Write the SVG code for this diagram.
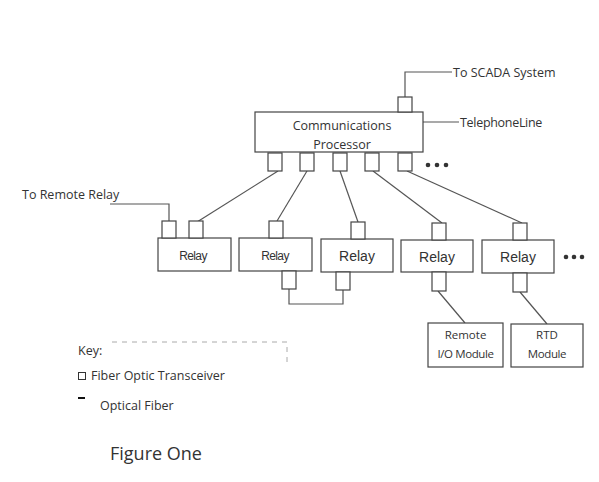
<svg xmlns="http://www.w3.org/2000/svg" width="599" height="482" viewBox="0 0 599 482">
<style>
.box{fill:#fff;stroke:#444;stroke-width:1.2}
.ln{fill:none;stroke:#555;stroke-width:1.2}
.t{font-family:"Open Sans","Noto Sans",sans-serif;fill:#333}
.r{font-family:"Liberation Sans",Arial,sans-serif;fill:#333;text-anchor:middle}
.dot{fill:#333}
</style>
<rect width="599" height="482" fill="#fff"/>
<g id="connectors">
<path class="ln" d="M405,97 V72 H452"/>
<path class="ln" d="M423,122 H459"/>
<path class="ln" d="M169,222 V204 H110"/>
<path class="ln" d="M278,171 L197,222"/>
<path class="ln" d="M307,171 L277,221"/>
<path class="ln" d="M340,171 L358,222"/>
<path class="ln" d="M373,171 L442,223"/>
<path class="ln" d="M407,171 L522,223"/>
<path class="ln" d="M289,289 V304 H343 V290"/>
<path class="ln" d="M438,291 L465,323"/>
<path class="ln" d="M520,292 L547,324"/>
</g>
<g id="processor">
<rect class="box" x="255" y="112" width="168" height="40"/>
<text class="t" x="342" y="130" text-anchor="middle" font-size="12.5">Communications</text>
<text class="t" x="342" y="149" text-anchor="middle" font-size="12.5">Processor</text>
<rect class="box" x="398" y="97" width="14" height="15"/>
<rect class="box" x="268" y="153" width="14" height="18"/>
<rect class="box" x="300" y="153" width="14" height="18"/>
<rect class="box" x="333" y="153" width="14" height="18"/>
<rect class="box" x="365" y="153" width="14" height="18"/>
<rect class="box" x="398" y="153" width="14" height="18"/>
<circle class="dot" cx="428" cy="165" r="2.3"/>
<circle class="dot" cx="437" cy="165" r="2.3"/>
<circle class="dot" cx="446" cy="165" r="2.3"/>
</g>
<g id="labels">
<text class="t" x="453" y="77" font-size="12.5">To SCADA System</text>
<text class="t" x="460" y="127" font-size="12.5" letter-spacing="-0.3">TelephoneLine</text>
<text class="t" x="22" y="199" font-size="12.5">To Remote Relay</text>
</g>
<g id="relay1">
<rect class="box" x="158" y="238" width="73" height="33"/>
<rect class="box" x="162" y="221" width="14" height="17"/>
<rect class="box" x="189" y="221" width="14" height="17"/>
<text class="r" x="193" y="260" font-size="12" letter-spacing="-0.6">Relay</text>
</g>
<g id="relay2">
<rect class="box" x="239" y="238" width="73" height="33"/>
<rect class="box" x="269" y="221" width="14" height="17"/>
<rect class="box" x="282" y="271" width="14" height="18"/>
<text class="r" x="275" y="260" font-size="12" letter-spacing="-0.6">Relay</text>
</g>
<g id="relay3">
<rect class="box" x="321" y="239" width="72" height="33"/>
<rect class="box" x="351" y="222" width="14" height="17"/>
<rect class="box" x="336" y="272" width="14" height="18"/>
<text class="r" x="357" y="261" font-size="14">Relay</text>
</g>
<g id="relay4">
<rect class="box" x="401" y="240" width="72" height="32"/>
<rect class="box" x="432" y="223" width="14" height="17"/>
<rect class="box" x="432" y="272" width="14" height="19"/>
<text class="r" x="437" y="262" font-size="14">Relay</text>
</g>
<g id="relay5">
<rect class="box" x="482" y="240" width="72" height="33"/>
<rect class="box" x="513" y="223" width="14" height="17"/>
<rect class="box" x="513" y="273" width="14" height="19"/>
<text class="r" x="518" y="262" font-size="14">Relay</text>
<circle class="dot" cx="566" cy="257" r="2.3"/>
<circle class="dot" cx="574" cy="257" r="2.3"/>
<circle class="dot" cx="582" cy="257" r="2.3"/>
</g>
<g id="remote-io">
<rect class="box" x="428" y="323" width="75" height="44"/>
<text class="t" x="465.5" y="339" text-anchor="middle" font-size="11.5">Remote</text>
<text class="t" x="465.5" y="358" text-anchor="middle" font-size="11.5" letter-spacing="-0.4">I/O Module</text>
</g>
<g id="rtd">
<rect class="box" x="511" y="324" width="72" height="43"/>
<text class="t" x="547" y="339" text-anchor="middle" font-size="11.5">RTD</text>
<text class="t" x="547" y="358" text-anchor="middle" font-size="11.5" letter-spacing="-0.4">Module</text>
</g>
<g id="key">
<path d="M112,342 H287 V364" fill="none" stroke="#aaa" stroke-width="1" stroke-dasharray="5,5"/>
<text class="t" x="78" y="355" font-size="12.5">Key:</text>
<rect x="78.5" y="372.5" width="7" height="7" fill="none" stroke="#333" stroke-width="1"/>
<text class="t" x="91" y="380" font-size="12.5">Fiber Optic Transceiver</text>
<rect x="78" y="397" width="7" height="2" fill="#111"/>
<text class="t" x="100" y="410" font-size="12.5">Optical Fiber</text>
<text class="t" x="110" y="460" font-size="18" fill="#444">Figure One</text>
</g>
</svg>
